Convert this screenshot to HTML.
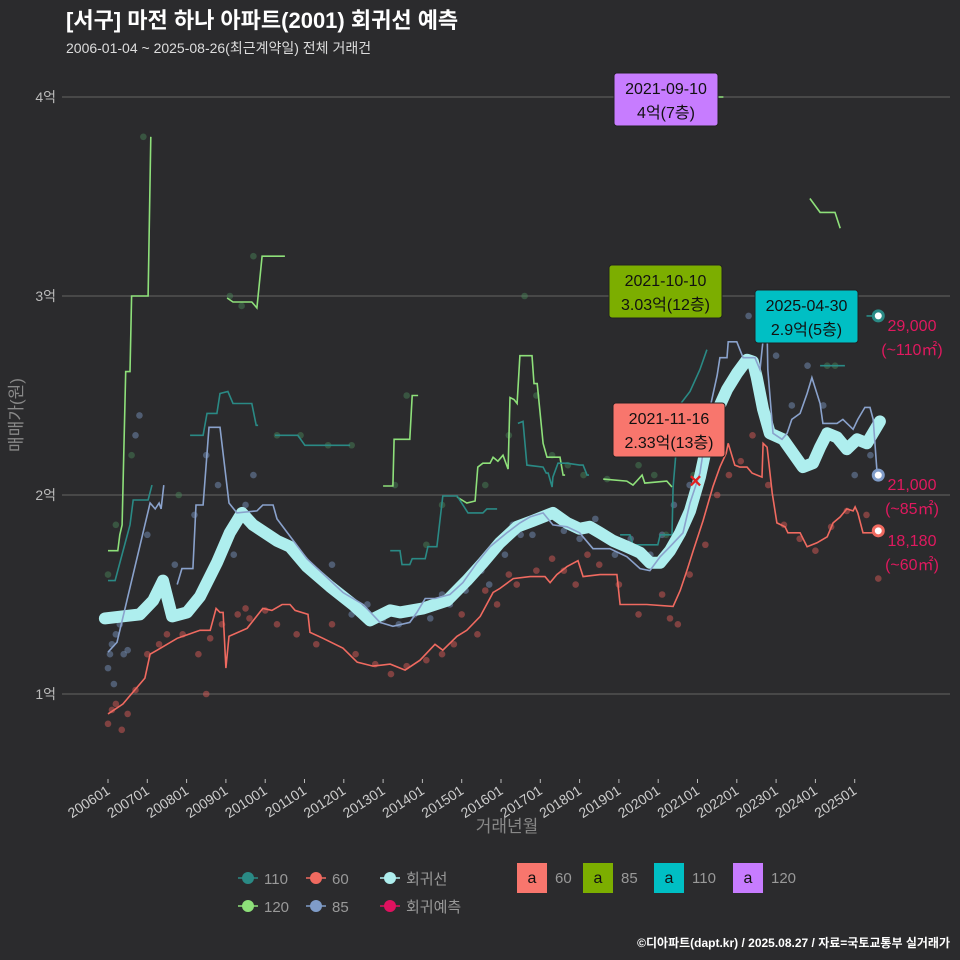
<!DOCTYPE html>
<html><head><meta charset="utf-8">
<style>
html,body{margin:0;padding:0;background:#2b2b2d;}
svg{display:block;font-family:"Liberation Sans","Noto Sans CJK KR",sans-serif;}
</style></head>
<body>
<svg id="chart" width="960" height="960" viewBox="0 0 960 960">
<rect width="960" height="960" fill="#2b2b2d"/>
<text x="66" y="28" fill="#ffffff" font-size="22" font-weight="bold">[서구] 마전 하나 아파트(2001) 회귀선 예측</text>
<text x="66" y="53" fill="#dddddd" font-size="14">2006-01-04 ~ 2025-08-26(최근계약일) 전체 거래건</text>
<g id="grid"></g>
<g id="marks"></g>
<g id="axes"></g>
<text transform="translate(22,415) rotate(-90)" text-anchor="middle" fill="#888" font-size="17">매매가(원)</text>
<text x="507" y="832" text-anchor="middle" fill="#888" font-size="17">거래년월</text>
<g id="legend"></g>
<text x="950" y="947" text-anchor="end" fill="#ffffff" font-size="12" font-weight="bold">©디아파트(dapt.kr) / 2025.08.27 / 자료=국토교통부 실거래가</text>
</svg>
<script>
const yTicks=[1,2,3,4];
const yTickLabels=["1억","2억","3억","4억"];
const xTicks=[2006,2007,2008,2009,2010,2011,2012,2013,2014,2015,2016,2017,2018,2019,2020,2021,2022,2023,2024,2025];
const xTickLabels=["200601","200701","200801","200901","201001","201101","201201","201301","201401","201501","201601","201701","201801","201901","202001","202101","202201","202301","202401","202501"];
const regYears=[2005.92,2006.81,2007.15,2007.4,2007.63,2008.01,2008.34,2008.77,2009.1,2009.41,2009.69,2010.3,2010.63,2011.06,2011.65,2012.23,2012.67,2013.18,2013.43,2014.02,2014.63,2015.13,2015.54,2015.97,2016.41,2016.81,2017.32,2017.68,2018.0,2018.26,2018.52,2018.85,2019.2,2019.54,2019.79,2020.05,2020.3,2020.56,2020.81,2021.06,2021.27,2021.5,2021.75,2022.0,2022.26,2022.41,2022.51,2022.67,2022.84,2023.18,2023.43,2023.68,2023.94,2024.12,2024.3,2024.55,2024.8,2025.06,2025.31,2025.64];
const regValues=[1.38,1.40,1.47,1.57,1.39,1.41,1.49,1.66,1.81,1.91,1.85,1.77,1.74,1.64,1.54,1.45,1.37,1.42,1.41,1.43,1.47,1.57,1.66,1.76,1.84,1.87,1.91,1.86,1.83,1.84,1.81,1.77,1.74,1.71,1.66,1.66,1.72,1.81,1.92,2.09,2.28,2.42,2.53,2.61,2.68,2.67,2.59,2.43,2.31,2.28,2.21,2.14,2.16,2.24,2.31,2.29,2.23,2.28,2.26,2.37];
const s60Years=[2006.0,2006.38,2006.94,2007.07,2007.25,2007.76,2008.34,2008.6,2008.75,2008.85,2008.93,2009.0,2009.08,2009.54,2009.94,2010.17,2010.43,2010.63,2010.76,2011.09,2011.14,2011.47,2011.98,2012.34,2012.74,2013.18,2013.56,2013.94,2014.32,2014.52,2014.88,2015.13,2015.47,2015.8,2015.97,2016.31,2016.74,2017.12,2017.25,2017.42,2017.68,2017.96,2018.09,2018.52,2018.95,2019.03,2019.71,2020.38,2020.56,2020.73,2020.89,2021.14,2021.39,2021.57,2021.73,2021.78,2021.95,2022.08,2022.26,2022.39,2022.64,2022.67,2022.77,2022.9,2023.02,2023.23,2023.3,2023.61,2023.79,2024.04,2024.3,2024.45,2024.63,2024.8,2024.96,2025.01,2025.08,2025.21,2025.59];
const s60Values=[0.90,0.95,1.08,1.20,1.22,1.28,1.32,1.32,1.43,1.41,1.41,1.13,1.29,1.33,1.43,1.42,1.45,1.45,1.42,1.40,1.31,1.28,1.23,1.16,1.14,1.15,1.12,1.17,1.25,1.22,1.29,1.32,1.39,1.51,1.53,1.58,1.59,1.59,1.56,1.60,1.64,1.67,1.59,1.60,1.60,1.45,1.45,1.44,1.52,1.62,1.72,1.87,2.04,2.14,2.21,2.26,2.15,2.14,2.14,2.11,2.09,2.26,2.24,2.01,1.86,1.84,1.81,1.81,1.74,1.76,1.79,1.86,1.89,1.93,1.92,1.94,1.91,1.81,1.81];
const s85Years=[2006.0,2006.23,2007.07,2007.2,2007.3,2007.35,2007.42,null,2007.76,2007.88,2008.16,2008.24,2008.42,2008.57,2008.85,2009.08,2009.28,2009.79,2009.94,2010.2,2010.3,2011.06,2011.98,2012.49,2012.92,2013.25,2013.68,2013.86,2014.07,2014.32,2014.7,2015.03,2015.39,2015.72,2016.15,2016.48,2016.74,2017.07,2017.32,2017.68,2018.0,2018.34,2018.77,2019.2,2019.54,2019.79,2020.05,2020.3,2020.63,2020.81,2021.06,2021.32,2021.5,2021.57,2021.75,2021.78,2022.0,2022.16,2022.46,2022.59,2022.67,2022.77,2022.79,2022.92,2023.15,2023.28,2023.4,2023.61,2023.79,2023.91,2024.12,2024.19,2024.55,2024.7,2024.96,2025.08,2025.26,2025.39,2025.47,2025.57];
const s85Values=[1.21,1.26,1.96,1.93,1.96,1.93,2.05,null,1.55,1.63,1.63,1.95,1.95,2.34,2.34,1.96,1.91,1.92,1.95,1.95,1.88,1.68,1.51,1.45,1.36,1.34,1.36,1.41,1.48,1.48,1.50,1.56,1.66,1.74,1.81,1.86,1.89,1.91,1.85,1.84,1.81,1.73,1.73,1.69,1.63,1.62,1.69,1.74,1.81,1.96,2.11,2.44,2.60,2.69,2.69,2.77,2.77,2.69,2.69,2.63,2.78,2.83,2.63,2.31,2.28,2.31,2.38,2.41,2.51,2.59,2.46,2.36,2.36,2.38,2.33,2.38,2.44,2.44,2.38,2.11];
const s110Years=[2006.0,2006.18,2006.56,2006.64,2007.02,2007.12,null,2008.09,2008.42,2008.52,2008.77,2008.85,2009.05,2009.18,2009.66,2009.77,2009.82,null,2010.25,2010.83,2011.01,2012.16,null,2013.18,2013.43,2013.48,2013.68,2013.74,2014.07,2014.14,2014.37,2014.52,2014.88,2014.9,2015.16,2015.54,2015.64,2015.9,null,2016.43,2016.56,2016.66,2017.07,2017.15,2017.2,2017.3,2017.32,2017.45,2017.68,2018.0,2018.09,2018.19,2018.24,null,2019.03,2019.28,2019.36,2019.99,2020.05,2020.35,2020.38,2020.48,2020.5,2020.81,2021.06,2021.24,null,2024.12,2024.75,null,2025.3,2025.6];
const s110Values=[1.57,1.57,1.85,1.975,1.975,2.05,null,2.30,2.30,2.41,2.41,2.51,2.52,2.46,2.46,2.35,2.35,null,2.30,2.30,2.25,2.25,null,1.72,1.72,1.65,1.65,1.68,1.68,1.74,1.74,1.995,1.995,1.99,1.91,1.91,1.93,1.93,null,2.36,2.37,2.15,2.14,2.11,2.11,2.04,2.09,2.16,2.16,2.15,2.15,2.10,2.10,null,1.80,1.80,1.75,1.75,1.80,1.80,2.04,2.28,2.44,2.52,2.63,2.73,null,2.65,2.65,null,2.90,2.90];
const s120Years=[2006.0,2006.25,2006.3,2006.36,2006.45,2006.56,2006.6,2007.02,2007.09,null,2009.03,2009.18,2009.66,2009.79,2009.92,2010.5,null,2013.0,2013.25,2013.28,2013.68,2013.74,2013.89,null,2014.88,2015.13,2015.34,2015.41,2015.54,2015.72,2015.8,2015.92,2016.05,2016.18,2016.23,2016.33,2016.41,2016.48,2016.79,2016.84,2016.92,2017.07,2017.17,2017.5,2017.58,2017.63,null,2018.6,2019.2,2019.36,2019.59,2019.66,2020.22,2020.35,null,2020.9,2021.66,null,2023.86,2024.12,2024.5,2024.63];
const s120Values=[1.72,1.72,1.80,1.85,2.62,2.62,3.00,3.00,3.80,null,2.99,2.97,2.97,2.94,3.20,3.20,null,2.045,2.045,2.28,2.28,2.50,2.50,null,1.99,1.96,1.97,2.14,2.16,2.16,2.19,2.17,2.20,2.13,2.49,2.48,2.46,2.70,2.70,2.56,2.56,2.26,2.19,2.19,2.10,2.10,null,2.08,2.07,2.05,2.10,2.06,2.07,2.04,null,4.00,4.00,null,3.49,3.42,3.42,3.34];
const pts60Y=[2006.0,2006.1,2006.2,2006.35,2006.5,2006.7,2007.0,2007.3,2007.5,2007.9,2008.3,2008.5,2008.6,2008.9,2009.3,2009.5,2009.6,2010.0,2010.3,2010.8,2011.3,2011.7,2012.3,2012.8,2013.2,2013.6,2014.1,2014.5,2014.8,2015.0,2015.4,2015.6,2015.9,2016.2,2016.4,2016.9,2017.3,2017.6,2017.9,2018.2,2018.5,2019.0,2019.5,2020.1,2020.3,2020.5,2020.8,2021.2,2021.5,2021.8,2022.1,2022.4,2022.8,2023.2,2023.6,2024.0,2024.4,2024.8,2025.3,2025.6];
const pts60V=[0.85,0.92,0.95,0.82,0.90,1.02,1.20,1.25,1.30,1.30,1.20,1.00,1.28,1.35,1.40,1.43,1.38,1.42,1.35,1.30,1.25,1.35,1.20,1.15,1.10,1.14,1.17,1.20,1.25,1.40,1.30,1.52,1.45,1.60,1.55,1.62,1.68,1.62,1.55,1.70,1.65,1.55,1.40,1.50,1.38,1.35,1.60,1.75,2.00,2.10,2.17,2.30,2.05,1.85,1.78,1.72,1.84,1.92,1.90,1.58];
const pts85Y=[2006.0,2006.05,2006.1,2006.15,2006.2,2006.3,2006.4,2006.5,2006.7,2006.8,2007.0,2007.3,2007.7,2008.2,2008.5,2008.8,2009.2,2009.5,2009.7,2010.1,2010.6,2011.2,2011.7,2012.2,2012.6,2013.0,2013.4,2013.8,2014.2,2014.5,2014.7,2015.1,2015.3,2015.5,2015.7,2015.9,2016.1,2016.3,2016.5,2016.8,2017.2,2017.6,2018.0,2018.4,2018.9,2019.3,2019.8,2020.1,2020.4,2020.8,2021.2,2021.6,2021.9,2022.3,2022.7,2023.0,2023.4,2023.8,2024.2,2024.6,2025.0,2025.4];
const pts85V=[1.13,1.20,1.25,1.05,1.30,1.35,1.20,1.22,2.30,2.40,1.80,1.55,1.65,1.90,2.20,2.05,1.70,1.95,2.10,1.80,1.75,1.60,1.65,1.40,1.45,1.38,1.35,1.40,1.38,1.50,1.45,1.52,1.60,1.62,1.55,1.75,1.70,1.85,1.80,1.80,1.90,1.82,1.78,1.88,1.70,1.78,1.70,1.80,1.95,2.05,2.22,2.40,2.60,2.90,3.00,2.70,2.45,2.65,2.45,2.30,2.10,2.20];
const ptsOtherY=[2006.0,2006.2,2006.6,2006.9,2007.8,2009.1,2009.4,2009.7,2010.3,2010.9,2011.6,2012.2,2013.3,2013.6,2014.1,2014.5,2015.6,2016.2,2016.6,2016.9,2017.3,2017.7,2018.1,2018.7,2019.5,2019.9,2020.2,2020.9,2024.3,2024.5];
const ptsOtherV=[1.60,1.85,2.20,3.80,2.00,3.00,2.95,3.20,2.30,2.30,2.25,2.25,2.05,2.50,1.75,1.95,2.05,2.30,3.00,2.50,2.20,2.15,2.10,2.08,2.15,2.10,1.80,2.10,2.65,2.65];
const labelText=["29,000","(~110㎡)","21,000","(~85㎡)","18,180","(~60㎡)"];
const labelValues=[2.90,2.90,2.10,2.10,1.82,1.82];
const endYear=2025.6;

const NS="http://www.w3.org/2000/svg";
const x0=108,xs=39.3,y1=694,ys=199;
function X(t){return x0+(t-2006)*xs;}
function Y(v){return y1-(v-1)*ys;}
function mk(tag,attrs,parent){const e=document.createElementNS(NS,tag);for(const k in attrs)e.setAttribute(k,attrs[k]);parent.appendChild(e);return e;}
const grid=document.getElementById('grid'),marks=document.getElementById('marks'),axes=document.getElementById('axes'),legend=document.getElementById('legend');

yTicks.forEach((v,i)=>{
  const l=mk('line',{x1:62,x2:950,y1:Y(v),y2:Y(v),stroke:'#5a5a5a','stroke-width':1.2},grid);
  
  
  const t=mk('text',{x:56,y:Y(v)+5,'text-anchor':'end',fill:'#bbb','font-size':14},axes);
  t.textContent=yTickLabels[i];
  
  
});
xTicks.forEach((v,i)=>{
  const tk=mk('line',{x1:X(v),x2:X(v),y1:779,y2:783,stroke:'#bbb'},axes);
  
  
  const t=mk('text',{x:X(v)+3,y:793,'text-anchor':'end',fill:'#ccc','font-size':14,transform:`rotate(-33 ${X(v)+3} 793)`},axes);
  t.textContent=xTickLabels[i];
  
  
});
function pathFrom(ys_,vs){let d='',pen=false;ys_.forEach((t,i)=>{if(t===null){pen=false;return;}d+=(pen?'L':'M')+X(t).toFixed(1)+','+Y(vs[i]).toFixed(1);pen=true;});return d;}
function scatter(ys_,vs,col,name){ys_.forEach((t,i)=>{const c=mk('circle',{cx:X(t),cy:Y(vs[i]),r:3.3,fill:col,'fill-opacity':0.45},marks);
  
  });}
scatter(pts60Y,pts60V,'#e8605a','point-60');
scatter(pts85Y,pts85V,'#7f9cc8','point-85');
scatter(ptsOtherY,ptsOtherV,'#4c8a5a','point-110-120');
const p120=mk('path',{d:pathFrom(s120Years,s120Values),fill:'none',stroke:'#8ee07a','stroke-width':1.6},marks);


const p110=mk('path',{d:pathFrom(s110Years,s110Values),fill:'none',stroke:'#2a8a85','stroke-width':1.6},marks);


const preg=mk('path',{d:pathFrom(regYears,regValues),fill:'none',stroke:'#aeeeee','stroke-width':12,'stroke-linejoin':'round','stroke-linecap':'round'},marks);


const p85=mk('path',{d:pathFrom(s85Years,s85Values),fill:'none',stroke:'#8aa2cc','stroke-width':1.6},marks);


const p60=mk('path',{d:pathFrom(s60Years,s60Values),fill:'none',stroke:'#f06a60','stroke-width':1.6},marks);


const cx=mk('text',{x:X(2020.95),y:Y(2.07)+6,'text-anchor':'middle',fill:'#e02020','font-size':17,'font-weight':'bold'},marks);
cx.textContent='✕';


const endCols=['#2a8a85','#7f9cc8','#f06a60'];
[2.90,2.10,1.82].forEach((v,i)=>{const c=mk('circle',{cx:X(endYear),cy:Y(v),r:5,fill:'#fff',stroke:endCols[i],'stroke-width':3},marks);
  
  });
labelText.forEach((s,i)=>{const t=mk('text',{x:912,y:Y(labelValues[i])+(i%2===0?22:46)-7,'text-anchor':'middle',fill:'#e0195f','font-size':16},marks);
  t.textContent=s;
  
  });
const boxes=[[614,73,104,53,'#c77cff','2021-09-10','4억(7층)'],[609,265,113,53,'#7cae00','2021-10-10','3.03억(12층)'],[755,290,103,53,'#00bfc4','2025-04-30','2.9억(5층)'],[613,403,112,54,'#f8766d','2021-11-16','2.33억(13층)']];
boxes.forEach(b=>{const g=mk('g',{},marks);
  
  
  mk('rect',{x:b[0],y:b[1],width:b[2],height:b[3],rx:3,fill:b[4],stroke:'#222'},g);
  const t1=mk('text',{x:b[0]+b[2]/2,y:b[1]+21,'text-anchor':'middle','font-size':16,fill:'#111'},g);t1.textContent=b[5];
  const t2=mk('text',{x:b[0]+b[2]/2,y:b[1]+45,'text-anchor':'middle','font-size':16,fill:'#111'},g);t2.textContent=b[6];});
const leg=[[248,878,'#2a8a85','110'],[316,878,'#f06a60','60'],[390,878,'#aeeeee','회귀선'],[248,906,'#8ee07a','120'],[316,906,'#7f9cc8','85'],[390,906,'#e0115f','회귀예측']];
leg.forEach(l=>{const g=mk('g',{},legend);
  
  
  mk('line',{x1:l[0]-10,x2:l[0]+10,y1:l[1],y2:l[1],stroke:l[2],'stroke-width':1.5},g);
  mk('circle',{cx:l[0],cy:l[1],r:6,fill:l[2]},g);
  const t=mk('text',{x:l[0]+16,y:l[1]+6,fill:'#999','font-size':15},g);t.textContent=l[3];});
const sq=[[517,'#f8766d','60'],[583,'#7cae00','85'],[654,'#00bfc4','110'],[733,'#c77cff','120']];
sq.forEach(s=>{const g=mk('g',{},legend);
  
  
  mk('rect',{x:s[0],y:863,width:30,height:30,fill:s[1]},g);
  const a=mk('text',{x:s[0]+15,y:883,'text-anchor':'middle',fill:'#111','font-size':16},g);a.textContent='a';
  const t=mk('text',{x:s[0]+38,y:883,fill:'#999','font-size':15},g);t.textContent=s[2];});
</script>
</body></html>
